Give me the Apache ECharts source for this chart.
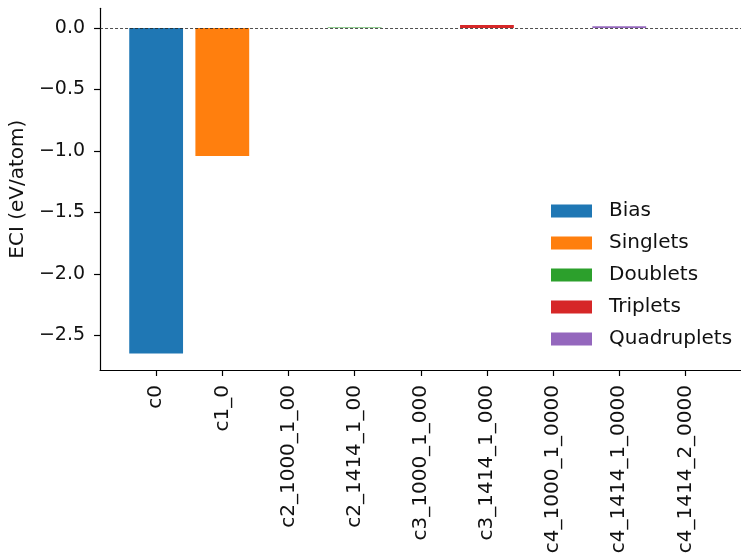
<!DOCTYPE html>
<html>
<head>
<meta charset="utf-8">
<title>ECI per cluster</title>
<script src="https://cdn.jsdelivr.net/npm/echarts@6/dist/echarts.min.js"></script>
<style>
  html, body { margin: 0; padding: 0; background: #fff; }
  #chart { width: 741px; height: 559px; }
</style>
</head>
<body>
<div id="chart"></div>
<script>
// Cluster names, in the order they appear along the x axis
const categories = [
  'c0', 'c1_0', 'c2_1000_1_00', 'c2_1414_1_00', 'c3_1000_1_000',
  'c3_1414_1_000', 'c4_1000_1_0000', 'c4_1414_1_0000', 'c4_1414_2_0000'
];
// Effective cluster interactions (eV/atom)
const eciValues = [-2.649, -1.042, 0, 0.004, 0, 0.025, 0, 0.014, 0];
// Cluster order of each entry
const clusterType = [
  'Bias', 'Singlets', 'Doublets', 'Doublets', 'Triplets',
  'Triplets', 'Quadruplets', 'Quadruplets', 'Quadruplets'
];
const groups = ['Bias', 'Singlets', 'Doublets', 'Triplets', 'Quadruplets'];
const groupColors = ['#1f77b4', '#ff7f0e', '#2ca02c', '#d62728', '#9467bd'];
const yTicks = [0, -0.5, -1.0, -1.5, -2.0, -2.5];

const chart = echarts.init(document.getElementById('chart'), null, { renderer: 'canvas' });

const xTicks = categories.map((_, i) => i);
const fontFamily = 'DejaVu Sans';
const textColor = '#111';
const fmtY = v => (v < -1e-9 ? '\u2212' : '') + Math.abs(v).toFixed(1);

const series = groups.map((g, gi) => {
  const data = [];
  eciValues.forEach((v, i) => { if (clusterType[i] === g) data.push([i, v]); });
  const s = {
    name: g,
    type: 'bar',
    data: data,
    barWidth: 53.8,
    barGap: '-100%',
    itemStyle: { color: groupColors[gi] },
    emphasis: { disabled: true }
  };
  if (gi === 0) {
    // dashed reference line at zero, drawn above the bars
    s.markLine = {
      silent: true,
      symbol: ['none', 'none'],
      label: { show: false },
      lineStyle: { type: [3, 2], color: '#222', width: 0.8 },
      data: [{ yAxis: 0 }],
      z: 10
    };
  }
  return s;
});

chart.setOption({
  animation: false,
  backgroundColor: '#fff',
  textStyle: { fontFamily: fontFamily },
  grid: { left: 100, top: 8.3, width: 651, bottom: 189, containLabel: false },
  legend: {
    orient: 'vertical',
    left: 546,
    top: 196,
    itemWidth: 41,
    itemHeight: 13,
    itemGap: 12,
    icon: 'rect',
    data: groups,
    selectedMode: false,
    textStyle: { fontFamily: fontFamily, fontSize: 20, color: textColor, padding: [0, 0, 0, 12] }
  },
  xAxis: {
    type: 'value',
    min: -0.848,
    max: 8.84,
    axisLine: { show: true, onZero: false, lineStyle: { color: '#000', width: 1.2 } },
    splitLine: { show: false },
    axisTick: { show: true, customValues: xTicks, length: 6, lineStyle: { color: '#000', width: 1.2 } },
    axisLabel: {
      customValues: xTicks,
      formatter: v => categories[Math.round(v)],
      rotate: 90,
      margin: 15,
      fontSize: 20,
      color: textColor,
      fontFamily: fontFamily
    }
  },
  yAxis: {
    type: 'value',
    min: -2.783,
    max: 0.161,
    name: 'ECI (eV/atom)',
    nameLocation: 'middle',
    nameGap: 72,
    nameTextStyle: { fontSize: 20, color: textColor, fontFamily: fontFamily },
    axisLine: { show: true, onZero: false, lineStyle: { color: '#000', width: 1.2 } },
    splitLine: { show: false },
    axisTick: { show: true, customValues: yTicks, length: 6, lineStyle: { color: '#000', width: 1.2 } },
    axisLabel: {
      customValues: yTicks,
      formatter: fmtY,
      margin: 15,
      fontSize: 19,
      color: textColor,
      fontFamily: fontFamily
    }
  },
  series: series
});
</script>
</body>
</html>
